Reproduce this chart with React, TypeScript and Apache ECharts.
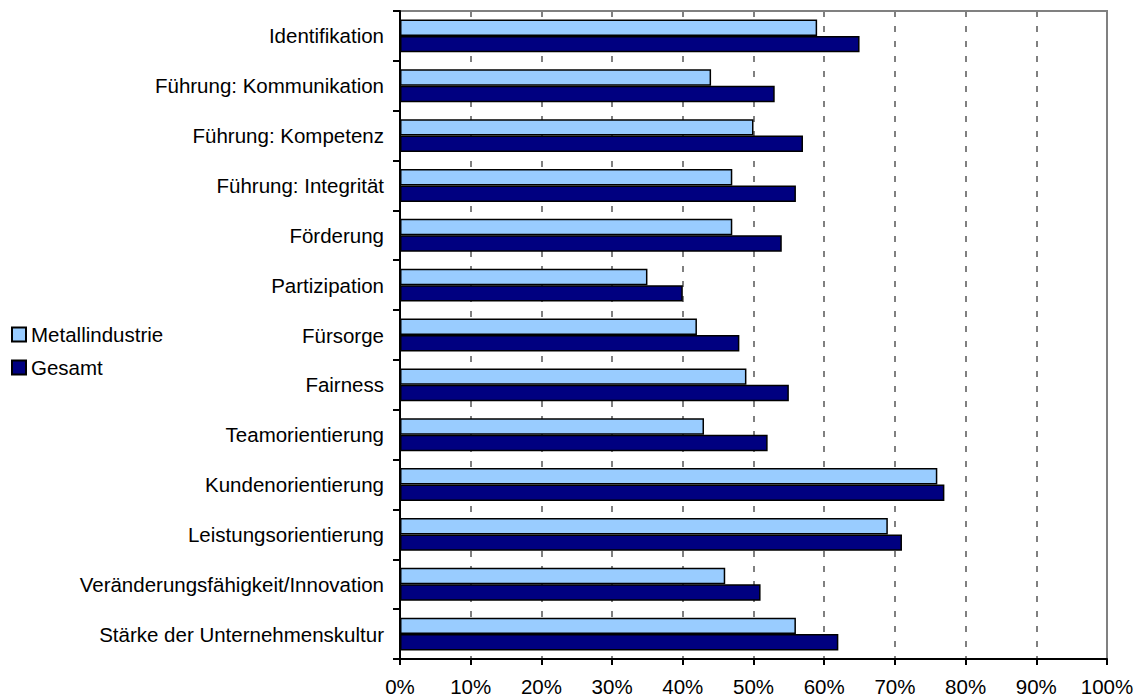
import React, { useEffect, useRef } from "react";
import * as echarts from "echarts";

const categories = [
  "Identifikation",
  "Führung: Kommunikation",
  "Führung: Kompetenz",
  "Führung: Integrität",
  "Förderung",
  "Partizipation",
  "Fürsorge",
  "Fairness",
  "Teamorientierung",
  "Kundenorientierung",
  "Leistungsorientierung",
  "Veränderungsfähigkeit/Innovation",
  "Stärke der Unternehmenskultur",
];

const metallindustrie = [59, 44, 50, 47, 47, 35, 42, 49, 43, 76, 69, 46, 56];
const gesamt = [65, 53, 57, 56, 54, 40, 48, 55, 52, 77, 71, 51, 62];

const FONT = "'Liberation Sans', Arial, sans-serif";
const FS = 20.5;

export default function App() {
  const ref = useRef<HTMLDivElement>(null);
  useEffect(() => {
    if (!ref.current) return;
    const chart = echarts.init(ref.current, null, { renderer: "svg" });
    chart.setOption({
      animation: false,
      backgroundColor: "#ffffff",
      textStyle: { fontFamily: FONT },
      grid: {
        left: 400,
        right: 34,
        top: 11,
        bottom: 40,
        show: true,
        borderColor: "#808080",
        borderWidth: 2,
        containLabel: false,
      },
      legend: {
        orient: "vertical",
        left: 6,
        top: 319,
        itemWidth: 14,
        itemHeight: 14,
        itemGap: 12,
        icon: "rect",
        data: ["Metallindustrie", "Gesamt"],
        textStyle: { fontFamily: FONT, fontSize: FS, color: "#000", lineHeight: 20 },
      },
      xAxis: {
        type: "value",
        min: 0,
        max: 100,
        interval: 10,
        axisLine: { show: true, lineStyle: { color: "#000", width: 2 } },
        axisTick: { show: true, length: 6, lineStyle: { color: "#000", width: 2 } },
        axisLabel: {
          formatter: "{value}%",
          fontFamily: FONT,
          fontSize: FS,
          color: "#000",
          margin: 17,
        },
        splitLine: {
          show: true,
          lineStyle: { color: "#808080", width: 2, type: [6, 9] },
        },
      },
      yAxis: {
        type: "category",
        data: categories,
        inverse: true,
        axisLine: { show: true, lineStyle: { color: "#000", width: 2 } },
        axisTick: { show: true, length: 7, lineStyle: { color: "#000", width: 2 } },
        axisLabel: {
          fontFamily: FONT,
          fontSize: FS,
          color: "#000",
          margin: 16,
        },
        splitLine: { show: false },
      },
      series: [
        {
          name: "Metallindustrie",
          type: "bar",
          data: metallindustrie,
          barGap: "0%",
          barCategoryGap: "34%",
          itemStyle: { color: "#99CCFF", borderColor: "#000", borderWidth: 1.5 },
        },
        {
          name: "Gesamt",
          type: "bar",
          data: gesamt,
          barGap: "0%",
          barCategoryGap: "34%",
          itemStyle: { color: "#000080", borderColor: "#000", borderWidth: 1.5 },
        },
      ],
    });
    return () => chart.dispose();
  }, []);
  return (
    <div
      ref={ref}
      style={{ position: "absolute", left: 0, top: 0, width: 1141, height: 699 }}
    />
  );
}
